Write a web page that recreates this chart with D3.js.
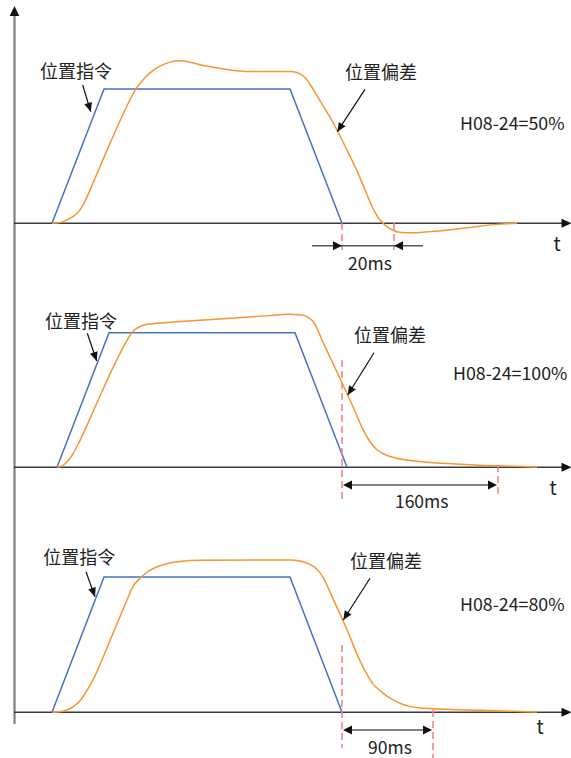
<!DOCTYPE html>
<html>
<head>
<meta charset="utf-8">
<script src="https://cdn.jsdelivr.net/npm/d3@7/dist/d3.min.js"></script>
<style>
  html, body { margin: 0; padding: 0; background: #fff; }
  svg { display: block; }
  text { font-family: "Noto Sans CJK SC", "Noto Sans", sans-serif; fill: #222; }
</style>
</head>
<body>
<svg id="chart" width="571" height="758"></svg>
<script>
// ---------- DATA ----------
const paramLabels = ["H08-24=50%", "H08-24=100%", "H08-24=80%"];
const cmdLabel = "位置指令";
const errLabel = "位置偏差";
const axisLabel = "t";

// position command (trapezoid): time, value (% of target)
const cmdT50 = [37, 89, 275, 327];
const cmdT100 = [42, 94, 280, 332];
const cmdT80 = [37, 89, 275, 327];
const cmdY = [0, 100, 100, 0];

// position response curves (orange)
const errT50 = [37, 45, 52, 59, 65, 71, 78, 95, 115, 120, 127, 135, 145, 155, 165, 175, 185, 200, 212, 235, 275, 282, 290, 298, 306, 315, 323, 333, 342, 350, 358, 363, 368, 373, 378, 383, 390, 400, 415, 448, 482, 502];
const errY50 = [0, 0.5, 2.5, 5.5, 10, 18, 30, 59.5, 92, 99, 106, 112, 117, 120, 121, 120, 118, 116, 114.5, 113, 113, 112.3, 108.5, 100, 90, 79, 68, 53, 39, 25, 11, 4.5, 0, -3, -5.2, -6.5, -7, -7, -6.2, -3.7, -0.8, 0];

const errT100 = [42, 48, 52, 58, 65, 82, 98, 111, 118, 125, 132, 152, 200, 250, 275, 285, 292, 298, 308, 325, 338, 348, 355, 362, 370, 382, 400, 415, 440, 465, 500, 522];
const errY100 = [0, 1.5, 4, 10, 20, 48, 74, 93, 101, 104.5, 106.2, 107.6, 110, 112.5, 113.7, 113.4, 112, 108.5, 93, 66, 45, 28, 19, 13, 9.5, 6.7, 4.6, 3.5, 2.5, 1.6, 0.8, 0];

const errT80 = [37, 45, 52, 58, 65, 71, 78, 95, 112, 118, 125, 132, 140, 148, 157, 165, 185, 275, 285, 293, 300, 307, 318, 332, 345, 352, 358, 365, 372, 380, 388, 396, 405, 432, 465, 500, 522];
const errY80 = [0, 0.4, 1.7, 4, 8.5, 15, 24, 53, 83, 93, 99, 103.5, 106.8, 109, 110.7, 111.5, 112.3, 112.6, 111.8, 110, 107, 101, 84, 61, 38, 28, 21, 16, 12, 8.5, 5.8, 4.2, 3.2, 2.2, 1.5, 0.7, 0.2];

// time markers (start = command end, end = settled) and spans
const markStart = [327, 327, 327];
const markEnd = [379, 483, 418];
const spanLabels = ["20ms", "160ms", "90ms"];

// ---------- LAYOUT ----------
const layout = [
  { base: 223.3, top: 89, cmdTx: [40, 70], cmdArrow: [82.7, 85, 90.7, 111.7],
    errTx: [345, 70.7], errArrow: [365, 89.3, 337.3, 131.7], paramTx: [460, 121.7],
    tTx: [557, 242], dash1: [223, 250], dash2: [223, 250], dimY: 245.7, inward: true,
    spanTx: [370, 262.7] },
  { base: 467.3, top: 332.7, cmdTx: [45, 320], cmdArrow: [87.3, 333.3, 96.7, 361],
    errTx: [354, 334.3], errArrow: [374, 352.7, 347.7, 395], paramTx: [453, 371.7],
    tTx: [553, 486.7], dash1: [360, 499], dash2: [465, 495], dimY: 485, inward: false,
    spanTx: [421.7, 500] },
  { base: 712.3, top: 577, cmdTx: [43.3, 556], cmdArrow: [86, 571.7, 95, 596.7],
    errTx: [350, 560], errArrow: [370, 578.3, 343.3, 620], paramTx: [460, 602.7],
    tTx: [540, 725], dash1: [645, 748.3], dash2: [710, 758], dimY: 730, inward: false,
    spanTx: [390, 746] }
];

const cmdTs = [cmdT50, cmdT100, cmdT80];
const errTs = [errT50, errT100, errT80];
const errYs = [errY50, errY100, errY80];

const svg = d3.select("#chart");
const x = d3.scaleLinear().domain([0, 556]).range([15, 571]);

const BLUE = "#4472C4", ORANGE = "#F7962F", RED = "#F08080";

function arrowHead(g, x1, y1, x2, y2, len, half, color) {
  const a = Math.atan2(y2 - y1, x2 - x1);
  const bx = x2 - len * Math.cos(a), by = y2 - len * Math.sin(a);
  const px = -Math.sin(a) * half, py = Math.cos(a) * half;
  g.append("path")
    .attr("d", `M${x2},${y2}L${bx + px},${by + py}L${bx - px},${by - py}Z`)
    .attr("fill", color);
}

// Y axis (shared)
const yAxisG = svg.append("g");
yAxisG.append("line").attr("x1", 14.5).attr("x2", 14.5).attr("y1", 724).attr("y2", 14)
  .attr("stroke", "#7f7f7f").attr("stroke-width", 2.2);
arrowHead(yAxisG, 14.5, 724, 14.5, 6, 10, 4.8, "#111");

layout.forEach((L, i) => {
  const g = svg.append("g");
  const y = d3.scaleLinear().domain([0, 100]).range([L.base, L.top]);

  // baseline (time axis)
  g.append("line").attr("x1", 14).attr("x2", 563).attr("y1", L.base).attr("y2", L.base)
    .attr("stroke", "#3a3a3a").attr("stroke-width", 1.4);
  arrowHead(g, 14, L.base, 571.5, L.base, 10, 4.5, "#111");
  g.append("text").attr("x", L.tTx[0]).attr("y", L.tTx[1]).attr("text-anchor", "middle")
    .attr("dominant-baseline", "central").attr("font-size", 19).text(axisLabel);

  // command trapezoid
  const cmd = cmdTs[i].map((t, k) => [t, cmdY[k]]);
  g.append("path").datum(cmd)
    .attr("d", d3.line().x(d => x(d[0])).y(d => y(d[1])))
    .attr("fill", "none").attr("stroke", BLUE).attr("stroke-width", 1.5);

  // response curve
  const err = errTs[i].map((t, k) => [t, errYs[i][k]]);
  g.append("path").datum(err)
    .attr("d", d3.line().curve(d3.curveMonotoneX).x(d => x(d[0])).y(d => y(d[1])))
    .attr("fill", "none").attr("stroke", ORANGE).attr("stroke-width", 1.5);

  // dashed markers
  const xs = x(markStart[i]), xe = x(markEnd[i]);
  g.append("line").attr("x1", xs).attr("x2", xs).attr("y1", L.dash1[0]).attr("y2", L.dash1[1])
    .attr("stroke", RED).attr("stroke-width", 1.5).attr("stroke-dasharray", "7,4");
  g.append("line").attr("x1", xe).attr("x2", xe).attr("y1", L.dash2[0]).attr("y2", L.dash2[1])
    .attr("stroke", RED).attr("stroke-width", 1.5).attr("stroke-dasharray", "7,4");

  // dimension line
  if (L.inward) {
    g.append("line").attr("x1", xs - 30).attr("x2", xe + 29).attr("y1", L.dimY).attr("y2", L.dimY)
      .attr("stroke", "#595959").attr("stroke-width", 1.4);
    arrowHead(g, xs - 30, L.dimY, xs, L.dimY, 9, 4.5, "#111");
    arrowHead(g, xe + 29, L.dimY, xe, L.dimY, 9, 4.5, "#111");
  } else {
    g.append("line").attr("x1", xs + 4).attr("x2", xe - 4).attr("y1", L.dimY).attr("y2", L.dimY)
      .attr("stroke", "#595959").attr("stroke-width", 1.4);
    arrowHead(g, xe, L.dimY, xs + 1, L.dimY, 9, 4.5, "#111");
    arrowHead(g, xs, L.dimY, xe - 1, L.dimY, 9, 4.5, "#111");
  }
  g.append("text").attr("x", L.spanTx[0]).attr("y", L.spanTx[1]).attr("text-anchor", "middle")
    .attr("dominant-baseline", "central").attr("font-size", 17.5).text(spanLabels[i]);

  // labels with arrows
  g.append("text").attr("x", L.cmdTx[0]).attr("y", L.cmdTx[1])
    .attr("dominant-baseline", "central").attr("font-size", 18).text(cmdLabel);
  const ca = L.cmdArrow;
  g.append("line").attr("x1", ca[0]).attr("y1", ca[1]).attr("x2", ca[2]).attr("y2", ca[3])
    .attr("stroke", "#111").attr("stroke-width", 1.2);
  arrowHead(g, ca[0], ca[1], ca[2], ca[3], 9, 4, "#111");

  g.append("text").attr("x", L.errTx[0]).attr("y", L.errTx[1])
    .attr("dominant-baseline", "central").attr("font-size", 18).text(errLabel);
  const ea = L.errArrow;
  g.append("line").attr("x1", ea[0]).attr("y1", ea[1]).attr("x2", ea[2]).attr("y2", ea[3])
    .attr("stroke", "#111").attr("stroke-width", 1.2);
  arrowHead(g, ea[0], ea[1], ea[2], ea[3], 9, 4, "#111");

  g.append("text").attr("x", L.paramTx[0]).attr("y", L.paramTx[1])
    .attr("dominant-baseline", "central").attr("font-size", 17.8).text(paramLabels[i]);
});
</script>
</body>
</html>
